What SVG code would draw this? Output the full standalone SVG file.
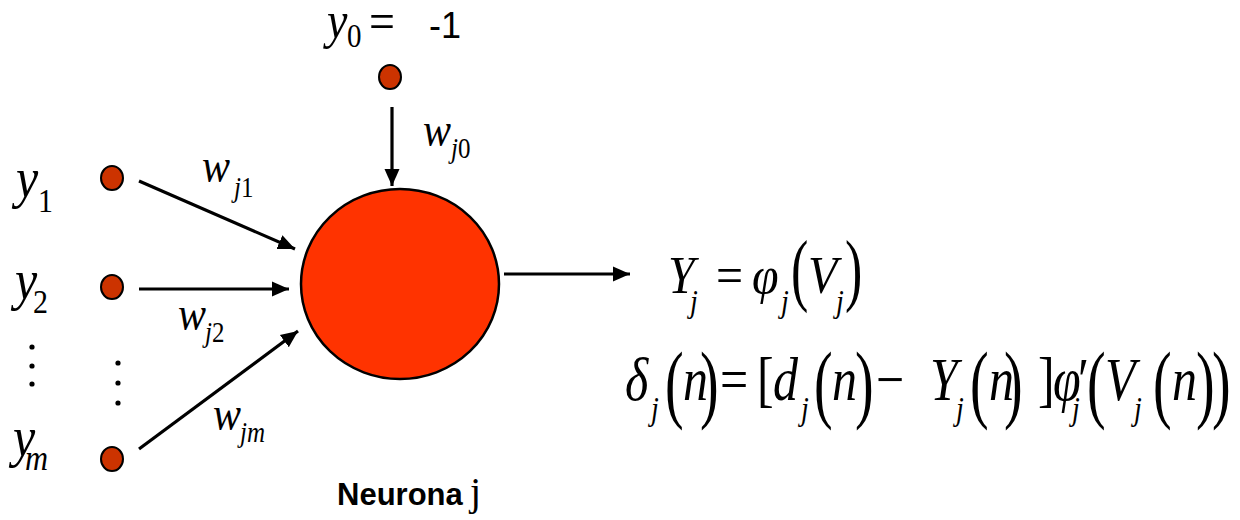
<svg xmlns="http://www.w3.org/2000/svg" width="1240" height="520" viewBox="0 0 1240 520">
<style>
.m{font-family:"Liberation Serif","Times New Roman",serif;font-style:italic;fill:#000}
.r{font-family:"Liberation Serif","Times New Roman",serif;font-style:normal;fill:#000}
.s{font-family:"Liberation Sans",Arial,sans-serif;fill:#000}
.in{fill:#CC3300;stroke:#000;stroke-width:2}
.dot{fill:#000}
.c{stroke:#000;stroke-width:3.2;fill:none}
</style>
<defs>
<marker id="ah" markerUnits="userSpaceOnUse" markerWidth="20" markerHeight="18" refX="17" refY="9" orient="auto">
<path d="M0,1.5 L17,9 L0,16.5 Z" fill="#000"/>
</marker>
</defs>
<rect width="1240" height="520" fill="#fff"/>

<g id="connectors">
<line class="c" x1="392" y1="107" x2="392" y2="186" marker-end="url(#ah)"/>
<line class="c" x1="139" y1="181" x2="295" y2="249" marker-end="url(#ah)"/>
<line class="c" x1="139" y1="289" x2="289" y2="289" marker-end="url(#ah)"/>
<line class="c" x1="139" y1="449" x2="298" y2="331" marker-end="url(#ah)"/>
<line class="c" x1="504" y1="274" x2="630" y2="274" marker-end="url(#ah)"/>
</g>

<g id="neuron">
<ellipse cx="400" cy="284" rx="99" ry="95" fill="#FF3300" stroke="#000" stroke-width="2.5"/>
<text class="s" x="337" y="505" font-size="31" font-weight="bold">Neurona</text>
<text class="r" x="470" y="505" font-size="40">j</text>
</g>

<g id="input0">
<ellipse class="in" cx="390" cy="77" rx="11" ry="12"/>
<g transform="translate(0,38) scale(1,1.15)">
<text class="m" x="327" y="0" font-size="46">y</text>
<text class="r" x="347" y="8" font-size="29">0</text>
<text class="r" x="369" y="1" font-size="46">=</text>
</g>
<text class="s" x="429" y="38" font-size="36">-1</text>
</g>

<g id="input1">
<ellipse class="in" cx="112" cy="178" rx="11" ry="12"/>
<g transform="translate(0,197) scale(1,1.15)">
<text class="m" x="16" y="0" font-size="50">y</text>
<text class="r" x="38" y="13" font-size="30">1</text>
</g>
</g>

<g id="input2">
<ellipse class="in" cx="112" cy="287" rx="11" ry="12"/>
<g transform="translate(0,299) scale(1,1.15)">
<text class="m" x="15" y="0" font-size="50">y</text>
<text class="r" x="33" y="12" font-size="30">2</text>
</g>
</g>

<g id="inputm">
<ellipse class="in" cx="112" cy="459" rx="11" ry="12"/>
<g transform="translate(0,456) scale(1,1.15)">
<text class="m" x="13" y="0" font-size="50">y</text>
<text class="m" x="25" y="12" font-size="32">m</text>
</g>
</g>

<g id="ellipsis">
<circle class="dot" cx="32" cy="347" r="2.6"/>
<circle class="dot" cx="32" cy="366" r="2.6"/>
<circle class="dot" cx="32" cy="384" r="2.6"/>
<circle class="dot" cx="118" cy="363" r="2.6"/>
<circle class="dot" cx="118" cy="383" r="2.6"/>
<circle class="dot" cx="118" cy="403" r="2.6"/>
</g>

<g id="weights">
<g transform="translate(0,146) scale(1,1.15)">
<text class="m" x="423" y="0" font-size="42">w</text>
<text class="m" x="451" y="10.5" font-size="25">j<tspan class="r">0</tspan></text>
</g>
<g transform="translate(0,182) scale(1,1.15)">
<text class="m" x="202" y="0" font-size="42">w</text>
<text class="m" x="234" y="13" font-size="25">j<tspan class="r">1</tspan></text>
</g>
<g transform="translate(0,330) scale(1,1.15)">
<text class="m" x="178" y="0" font-size="42">w</text>
<text class="m" x="205" y="10.5" font-size="25">j<tspan class="r">2</tspan></text>
</g>
<g transform="translate(0,430) scale(1,1.15)">
<text class="m" x="213" y="0" font-size="42">w</text>
<text class="m" x="240" y="10.5" font-size="25">jm</text>
</g>
</g>

<g id="formula1">
<g transform="translate(0,293) scale(1,1.1)">
<text class="m" x="668" y="0" font-size="48">Y</text>
<text class="m" x="690" y="17" font-size="28">j</text>
<text class="r" x="716" y="0" font-size="48">=</text>
<text class="m" x="752" y="0" font-size="48">φ</text>
<text class="m" x="781" y="17" font-size="28">j</text>
<text class="m" x="808" y="0" font-size="48">V</text>
<text class="m" x="836" y="17" font-size="28">j</text>
</g>
<g transform="translate(0,296) scale(1,1.55)">
<text class="r" x="791" y="0" font-size="52">(</text>
<text class="r" x="845" y="0" font-size="52">)</text>
</g>
</g>

<g id="formula2">
<g transform="translate(0,400) scale(1,1.22)">
<text class="m" x="625" y="0" font-size="50">δ</text>
<text class="m" x="651" y="16.4" font-size="28">j</text>
<text class="m" x="683" y="0" font-size="50">n</text>
<text class="r" x="720" y="0" font-size="50">=</text>
<text class="r" x="757" y="0" font-size="50">[</text>
<text class="m" x="773" y="0" font-size="50">d</text>
<text class="m" x="801" y="16.4" font-size="28">j</text>
<text class="m" x="832" y="0" font-size="50">n</text>
<text class="r" x="876" y="0" font-size="50">−</text>
<text class="m" x="930" y="0" font-size="50">Y</text>
<text class="m" x="956" y="16.4" font-size="28">j</text>
<text class="m" x="989" y="0" font-size="50">n</text>
<text class="r" x="1038" y="0" font-size="50">]</text>
<text class="m" x="1053" y="0" font-size="50">φ</text>
<text class="r" x="1078" y="0" font-size="50">′</text>
<text class="m" x="1072" y="16.4" font-size="28">j</text>
<text class="m" x="1105" y="0" font-size="50">V</text>
<text class="m" x="1134" y="16.4" font-size="28">j</text>
<text class="m" x="1172" y="0" font-size="50">n</text>
</g>
<g transform="translate(0,412) scale(1,1.55)">
<text class="r" x="665" y="0" font-size="56">(</text>
<text class="r" x="700" y="0" font-size="56">)</text>
<text class="r" x="814" y="0" font-size="56">(</text>
<text class="r" x="855" y="0" font-size="56">)</text>
<text class="r" x="970" y="0" font-size="56">(</text>
<text class="r" x="1004" y="0" font-size="56">)</text>
<text class="r" x="1087" y="0" font-size="56">(</text>
<text class="r" x="1153" y="0" font-size="56">(</text>
<text class="r" x="1196" y="0" font-size="56">)</text>
<text class="r" x="1212" y="0" font-size="56">)</text>
</g>
</g>
</svg>
